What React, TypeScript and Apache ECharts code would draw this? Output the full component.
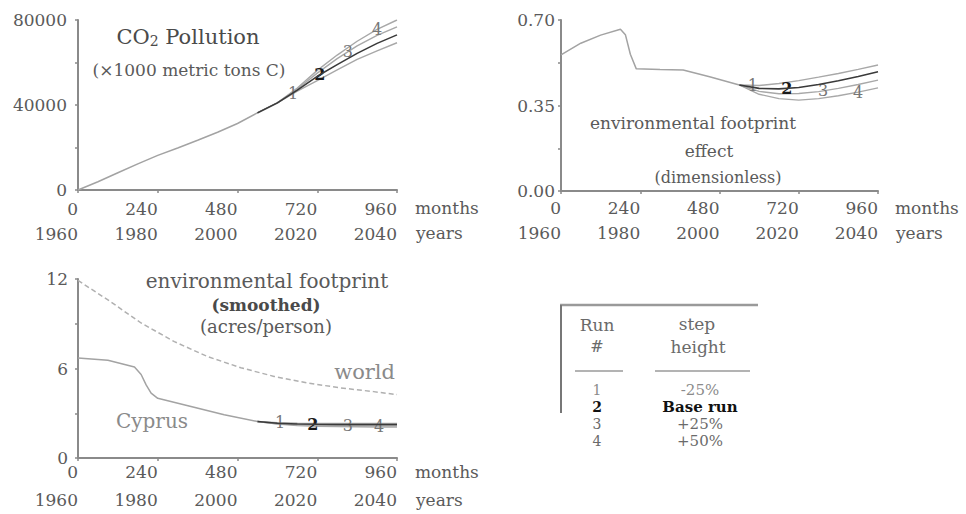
import React, { useEffect, useRef } from 'react';
import * as echarts from 'echarts';

// ---------- data ----------
const monthTicks = [0, 240, 480, 720, 960];
const startYear = 1960;

// CO2 pollution (x1000 metric tons C)
const co2HistT = [0, 60, 120, 180, 240, 300, 360, 420, 480, 540];
const co2HistV = [0, 3900, 8100, 12300, 16300, 19800, 23400, 27200, 31300, 36300];
const co2RunT = [540, 600, 660, 720, 780, 840, 900, 960];
const co2Run1 = [36300, 41000, 46500, 51500, 56500, 61500, 65500, 69300];
const co2Run2 = [36300, 41000, 47000, 53500, 59000, 64300, 69000, 73000];
const co2Run3 = [36300, 41000, 47500, 55000, 61800, 67800, 72800, 76800];
const co2Run4 = [36300, 41000, 48000, 56300, 63500, 70000, 75600, 80000];
const co2LabelT = [647, 728, 812, 900];

// environmental footprint effect (dimensionless)
const effHistT = [0, 60, 120, 180, 195, 210, 228, 300, 370, 450, 540];
const effHistV = [0.557, 0.605, 0.638, 0.662, 0.64, 0.56, 0.5, 0.497, 0.495, 0.468, 0.434];
const effRunT = [540, 600, 660, 720, 780, 840, 900, 960];
const effRun1 = [0.434, 0.432, 0.44, 0.452, 0.466, 0.481, 0.498, 0.516];
const effRun2 = [0.434, 0.42, 0.418, 0.424, 0.436, 0.451, 0.469, 0.488];
const effRun3 = [0.434, 0.408, 0.398, 0.399, 0.407, 0.42, 0.436, 0.454];
const effRun4 = [0.434, 0.396, 0.378, 0.372, 0.378, 0.39, 0.405, 0.422];
const effLabelT = [581, 684, 794, 900];

// environmental footprint smoothed (acres/person)
const worldT = [0, 90, 190, 290, 390, 490, 590, 690, 790, 890, 960];
const worldV = [11.9, 10.6, 9.05, 7.8, 6.8, 6.05, 5.47, 5.03, 4.7, 4.45, 4.25];
const cyHistT = [0, 90, 170, 190, 205, 220, 240, 340, 440, 540];
const cyHistV = [6.7, 6.55, 6.1, 5.6, 4.9, 4.35, 4.0, 3.45, 2.9, 2.45];
const cyRunT = [540, 600, 660, 720, 780, 840, 900, 960];
const cyRun1 = [2.45, 2.36, 2.33, 2.32, 2.32, 2.32, 2.32, 2.32];
const cyRun2 = [2.45, 2.33, 2.28, 2.26, 2.25, 2.25, 2.25, 2.25];
const cyRun3 = [2.45, 2.3, 2.22, 2.19, 2.17, 2.16, 2.16, 2.16];
const cyRun4 = [2.45, 2.27, 2.17, 2.13, 2.1, 2.09, 2.08, 2.08];
const cyLabelT = [608, 707, 812, 906];

// table
const tableRuns = ['1', '2', '3', '4'];
const tableSteps = ['-25%', 'Base run', '+25%', '+50%'];
const baseRunIndex = 1;

// ---------- helpers ----------
const FONT = '"DejaVu Serif", "Liberation Serif", serif';
const HIST_COLOR = '#a3a3a3';
const RUN_COLORS = ['#a8a8a8', '#3a3a3a', '#a8a8a8', '#a8a8a8'];
const AXIS_COLOR = '#8a8a8a';
const TEXT = '#5a5a5a';

function interp(ts: number[], vs: number[], t: number) {
  for (let i = 0; i < ts.length - 1; i++) {
    if (t >= ts[i] && t <= ts[i + 1]) {
      const f = (t - ts[i]) / (ts[i + 1] - ts[i]);
      return vs[i] + f * (vs[i + 1] - vs[i]);
    }
  }
  return vs[vs.length - 1];
}

function line(g: number, ts: number[], vs: number[], color: string, width: number, z: number, type: any = 'solid') {
  return {
    type: 'line',
    xAxisIndex: g,
    yAxisIndex: g,
    data: ts.map((t, i) => [t, vs[i]]),
    symbol: 'none',
    showSymbol: false,
    lineStyle: { color, width, type },
    z,
    silent: true,
  };
}

function runSeries(g: number, ts: number[], runs: number[][], labelT: number[]) {
  return runs.map((vs, i) => {
    const s: any = line(g, ts, vs, RUN_COLORS[i], i === baseRunIndex ? 1.6 : 1.4, i === baseRunIndex ? 6 : 4);
    s.markPoint = {
      symbol: 'circle',
      symbolSize: 1,
      itemStyle: { color: 'rgba(0,0,0,0)' },
      silent: true,
      data: [{ coord: [labelT[i], interp(ts, vs, labelT[i])] }],
      label: {
        show: true,
        position: 'inside',
        formatter: String(i + 1),
        fontFamily: FONT,
        fontSize: 16,
        fontWeight: i === baseRunIndex ? 'bold' : 'normal',
        color: i === baseRunIndex ? '#1a1a1a' : '#777',
      },
    };
    return s;
  });
}

function xAxis(g: number, margin: number, lh: number) {
  return {
    type: 'value',
    gridIndex: g,
    min: 0,
    max: 960,
    interval: 240,
    axisLine: { show: true, onZero: false, lineStyle: { color: AXIS_COLOR, width: 2 } },
    axisTick: { show: true, length: 3, lineStyle: { color: AXIS_COLOR, width: 1.5 } },
    splitLine: { show: false },
    axisLabel: {
      show: true,
      margin,
      align: 'right',
      lineHeight: lh,
      fontFamily: FONT,
      fontSize: 17,
      color: TEXT,
      formatter: (v: number) => `${v}\n${startYear + v / 12}`,
    },
  };
}

function yAxis(g: number, max: number, interval: number, labelEvery: number, margin: number, fmt: (v: number) => string) {
  return {
    type: 'value',
    gridIndex: g,
    min: 0,
    max,
    interval,
    axisLine: { show: true, onZero: false, lineStyle: { color: AXIS_COLOR, width: 2 } },
    axisTick: { show: true, length: 3, lineStyle: { color: AXIS_COLOR, width: 1.5 } },
    splitLine: { show: false },
    axisLabel: {
      show: true,
      margin,
      fontFamily: FONT,
      fontSize: 17,
      color: TEXT,
      formatter: (v: number) => {
        const k = v / labelEvery;
        return Math.abs(k - Math.round(k)) < 1e-6 ? fmt(v) : '';
      },
    },
  };
}

function txt(text: string, x: number, y: number, size: number, opts: any = {}) {
  return {
    type: 'text',
    x,
    y,
    silent: true,
    style: {
      text,
      fontFamily: FONT,
      fontSize: size,
      fontWeight: opts.weight || 'normal',
      fill: opts.color || TEXT,
      align: opts.align || 'center',
      verticalAlign: 'middle',
      ...(opts.rich ? { rich: opts.rich } : {}),
    },
  };
}

function hline(x1: number, x2: number, y: number, w = 2) {
  return { type: 'line', silent: true, shape: { x1, y1: y, x2, y2: y }, style: { stroke: '#9a9a9a', lineWidth: w } };
}

export default function App() {
  const ref = useRef<HTMLDivElement>(null);
  useEffect(() => {
    if (!ref.current) return;
    const chart = echarts.init(ref.current, null, { renderer: 'svg' });

    const series: any[] = [
      line(0, co2HistT, co2HistV, HIST_COLOR, 1.5, 3),
      ...runSeries(0, co2RunT, [co2Run1, co2Run2, co2Run3, co2Run4], co2LabelT),
      line(1, effHistT, effHistV, HIST_COLOR, 1.5, 3),
      ...runSeries(1, effRunT, [effRun1, effRun2, effRun3, effRun4], effLabelT),
      line(2, worldT, worldV, '#b0b0b0', 1.5, 3, [5, 3]),
      line(2, cyHistT, cyHistV, HIST_COLOR, 1.5, 3),
      ...runSeries(2, cyRunT, [cyRun1, cyRun2, cyRun3, cyRun4], cyLabelT),
    ];

    const rowY = [390, 407, 424, 441];
    const graphic: any[] = [
      // panel 1 texts
      txt('CO{s|2} Pollution', 188, 37, 21, {
        color: '#4a4a4a',
        rich: { s: { fontSize: 14, fontFamily: FONT, fill: '#4a4a4a', color: '#4a4a4a', lineHeight: 12, verticalAlign: 'bottom' } },
      }),
      txt('(×1000 metric tons C)', 189, 70, 17),
      txt('months', 415, 208, 17, { align: 'left' }),
      txt('years', 416, 233, 17, { align: 'left' }),
      // panel 2 texts
      txt('environmental footprint', 693, 123, 17),
      txt('effect', 709, 151, 17),
      txt('(dimensionless)', 718, 177, 16),
      txt('months', 895, 208, 17, { align: 'left' }),
      txt('years', 896, 233, 17, { align: 'left' }),
      // panel 3 texts
      txt('environmental footprint', 267, 281, 20),
      txt('(smoothed)', 266, 305, 17, { weight: 'bold', color: '#4a4a4a' }),
      txt('(acres/person)', 266, 326, 18),
      txt('world', 395, 372, 21, { align: 'right', color: '#8a8a8a' }),
      txt('Cyprus', 152, 421, 20, { color: '#8a8a8a' }),
      txt('months', 415, 472, 17, { align: 'left' }),
      txt('years', 416, 500, 17, { align: 'left' }),
      // table
      hline(560, 758, 305, 2.5),
      { type: 'line', silent: true, shape: { x1: 561, y1: 305, x2: 561, y2: 413 }, style: { stroke: '#777', lineWidth: 2 } },
      txt('Run', 597, 325, 17, { color: '#6a6a6a' }),
      txt('#', 597, 346, 16, { color: '#6a6a6a' }),
      txt('step', 697, 324, 17, { color: '#6a6a6a' }),
      txt('height', 698, 347, 17, { color: '#6a6a6a' }),
      hline(575, 623, 371, 1.5),
      hline(655, 750, 371, 1.5),
      ...tableRuns.flatMap((r, i) => {
        const bold = i === baseRunIndex;
        const color = bold ? '#111' : i === 0 ? '#8a8a8a' : '#6a6a6a';
        return [
          txt(r, 597, rowY[i], 14, { weight: bold ? 'bold' : 'normal', color }),
          txt(tableSteps[i], 700, rowY[i], 15, { weight: bold ? 'bold' : 'normal', color }),
        ];
      }),
    ];

    chart.setOption({
      animation: false,
      backgroundColor: '#fff',
      grid: [
        { left: 78, top: 20, width: 319, height: 170, containLabel: false },
        { left: 561, top: 20, width: 317, height: 171, containLabel: false },
        { left: 78, top: 279, width: 319, height: 179, containLabel: false },
      ],
      xAxis: [xAxis(0, 6, 25), xAxis(1, 4, 25), xAxis(2, 0, 28)],
      yAxis: [
        yAxis(0, 80000, 20000, 40000, 11, (v) => String(v)),
        yAxis(1, 0.7, 0.175, 0.35, 6, (v) => v.toFixed(2)),
        yAxis(2, 12, 3, 6, 10, (v) => String(v)),
      ],
      series,
      graphic,
    });

    return () => chart.dispose();
  }, []);

  return (
    <div
      ref={ref}
      style={{ position: 'fixed', left: 0, top: 0, width: 966, height: 514, background: '#fff' }}
    />
  );
}
